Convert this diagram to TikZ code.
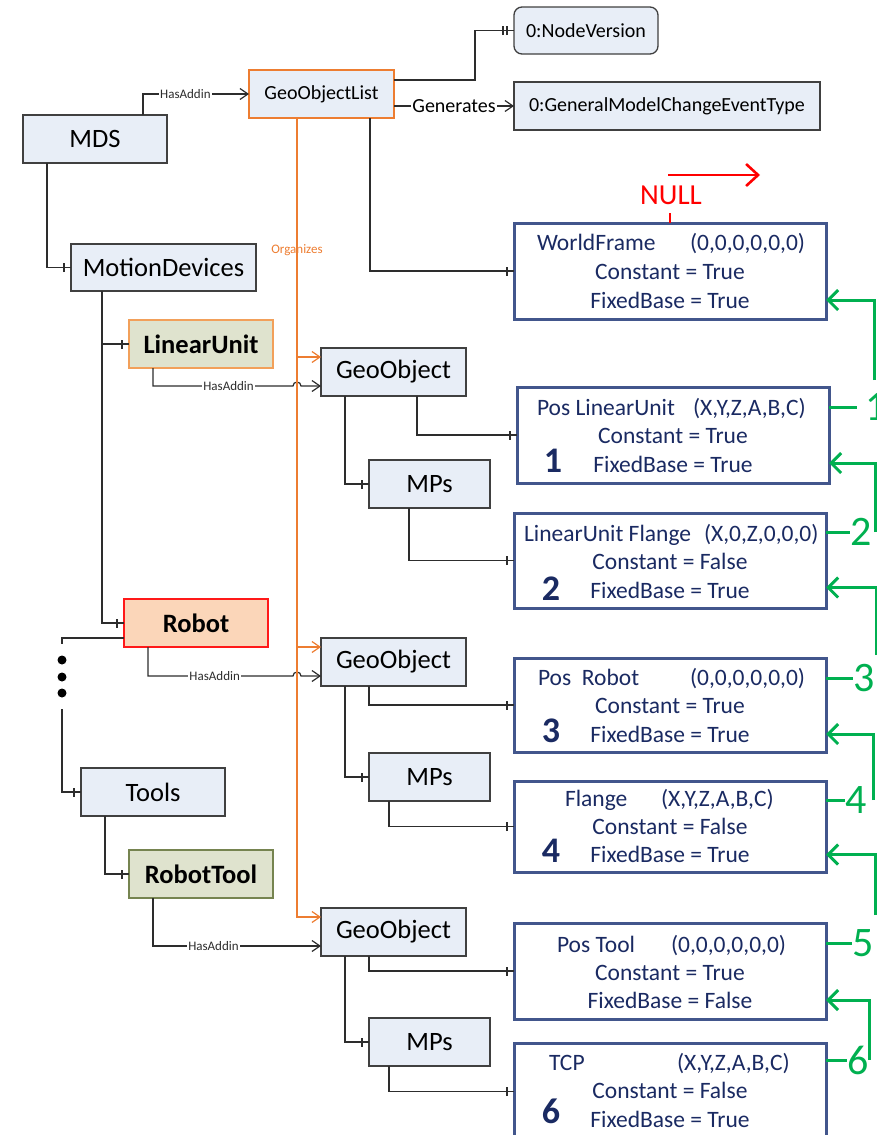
\documentclass[tikz,border=0pt]{standalone}
\usepackage{fontspec}
\setmainfont{Carlito}
\usetikzlibrary{arrows.meta,decorations.markings,calc}
\newcommand\setfs[1]{\fontsize{#1}{#1}\selectfont}
\definecolor{boxfill}{RGB}{232,238,247}
\definecolor{boxline}{RGB}{64,64,64}
\definecolor{olivefill}{RGB}{223,227,206}
\definecolor{oliveline}{RGB}{118,132,80}
\definecolor{peach}{RGB}{251,214,185}
\definecolor{orng}{RGB}{237,125,49}
\definecolor{lorng}{RGB}{242,160,90}
\definecolor{frame}{RGB}{66,86,140}
\definecolor{navy}{RGB}{26,42,98}
\definecolor{grn}{RGB}{0,176,80}
\definecolor{conncol}{RGB}{45,45,45}

\begin{document}
\begin{tikzpicture}[x=1pt,y=-1pt,
  every node/.style={inner sep=0pt,outer sep=0pt},
  sz/.style 2 args={minimum width=#1pt,minimum height=#2pt},
  lbox/.style={draw=boxline,fill=boxfill,line width=1.3pt,anchor=north west,font=\setfs{26.5}},
  sbox/.style={lbox,font=\setfs{20}},
  olbox/.style={lbox,fill=olivefill,font=\setfs{26.5}\bfseries},
  rbox/.style={draw=frame,fill=white,line width=3pt,anchor=north west,minimum width=312pt},
  rtxt/.style={text=navy,font=\setfs{23.5},anchor=base west},
  rctr/.style={text=navy,font=\setfs{23.5},anchor=base},
  rnum/.style={text=navy,font=\setfs{36}\bfseries,anchor=base},
  conn/.style={draw=conncol,line width=1.2pt},
  oarr/.style={-{Straight Barb[length=8pt,width=11pt]}},
  org/.style={draw=orng,line width=1.2pt,-{Straight Barb[length=8pt,width=11pt]}},
  lbl/.style={fill=white,font=\setfs{13},text=conncol,inner sep=1pt},
  one/.style={postaction={decorate,decoration={markings,
      mark=at position -7pt with {\draw[conncol,line width=1.1pt] (0pt,-4.5pt) -- (0pt,4.5pt);}}}},
  two/.style={postaction={decorate,decoration={markings,
      mark=at position -7pt with {\draw[conncol,line width=1.1pt] (0pt,-4.5pt) -- (0pt,4.5pt);},
      mark=at position -11pt with {\draw[conncol,line width=1.1pt] (0pt,-4.5pt) -- (0pt,4.5pt);}}}},
  garr/.style={draw=grn,line width=3pt,-{Straight Barb[length=10pt,width=20pt]}},
  gdash/.style={draw=grn,line width=3pt},
  gnum/.style={text=grn,font=\setfs{42},anchor=west},
  dot/.style={circle,fill=black,minimum size=9pt}
]
\useasboundingbox (0,0) rectangle (877,1135);
\clip (0,0) rectangle (877,1135);

% ---------- left hierarchy ----------
\node[lbox,sz={144}{48}] (mds) at (23,115) {MDS};
\node[lbox,sz={185}{47}] (mdev) at (71,244) {MotionDevices};
\node[olbox,draw=lorng,sz={144}{48}] (lin) at (129,320) {LinearUnit};
\node[olbox,fill=peach,draw=red!90!white,sz={144}{48}] (robot) at (124,599) {Robot};
\node[lbox,sz={144}{48}] (tools) at (81,768) {Tools};
\node[olbox,draw=oliveline,sz={144}{48}] (rtool) at (129,850) {RobotTool};

% ---------- object list and its targets ----------
\node[sbox,draw=orng,sz={145}{48}] (gol) at (249,70) {GeoObjectList};
\node[sbox,rounded corners=8pt,sz={144}{47}] (nodever) at (514,7) {0:NodeVersion};
\node[sbox,sz={306}{48}] (gmce) at (514,82) {0:GeneralModelChangeEventType};

% ---------- geo objects and MPs ----------
\node[lbox,sz={145}{48}] (geo1) at (321,348) {GeoObject};
\node[lbox,sz={121}{48}] (mps1) at (369,460) {MPs};
\node[lbox,sz={145}{48}] (geo2) at (321,638) {GeoObject};
\node[lbox,sz={121}{48}] (mps2) at (369,753) {MPs};
\node[lbox,sz={145}{48}] (geo3) at (321,908) {GeoObject};
\node[lbox,sz={121}{48}] (mps3) at (369,1018) {MPs};

% ---------- frame boxes ----------
\node[rbox,minimum height=96pt] (wf) at (514,223) {};
\node[rtxt] (wf-a) at ([xshift=23pt,yshift=-27pt]wf.north west) {WorldFrame};
\node[rtxt] (wf-b) at ([xshift=176pt,yshift=-27pt]wf.north west) {(0,0,0,0,0,0)};
\node[rctr] (wf-c) at ([yshift=-56pt]wf.north) {Constant = True};
\node[rctr] (wf-d) at ([yshift=-85pt]wf.north) {FixedBase = True};

\node[rbox,minimum height=96pt] (plu) at (517,387) {};
\node[rtxt] (plu-a) at ([xshift=20pt,yshift=-28pt]plu.north west) {Pos LinearUnit};
\node[rtxt] (plu-b) at ([xshift=176pt,yshift=-28pt]plu.north west) {(X,Y,Z,A,B,C)};
\node[rctr] (plu-c) at ([yshift=-56pt]plu.north) {Constant = True};
\node[rctr] (plu-d) at ([yshift=-85pt]plu.north) {FixedBase = True};
\node[rnum] (plu-n) at ([xshift=36pt,yshift=-85pt]plu.north west) {1};

\node[rbox,minimum height=95pt] (luf) at (514,513) {};
\node[rtxt] (luf-a) at ([xshift=10pt,yshift=-28pt]luf.north west) {LinearUnit Flange};
\node[rtxt] (luf-b) at ([xshift=190pt,yshift=-28pt]luf.north west) {(X,0,Z,0,0,0)};
\node[rctr] (luf-c) at ([yshift=-56pt]luf.north) {Constant = False};
\node[rctr] (luf-d) at ([yshift=-85pt]luf.north) {FixedBase = True};
\node[rnum] (luf-n) at ([xshift=37pt,yshift=-87pt]luf.north west) {2};

\node[rbox,minimum height=94pt] (pr) at (514,658) {};
\node[rtxt] (pr-a) at ([xshift=24pt,yshift=-27pt]pr.north west) {Pos\ \ Robot};
\node[rtxt] (pr-b) at ([xshift=176pt,yshift=-27pt]pr.north west) {(0,0,0,0,0,0)};
\node[rctr] (pr-c) at ([yshift=-55pt]pr.north) {Constant = True};
\node[rctr] (pr-d) at ([yshift=-84pt]pr.north) {FixedBase = True};
\node[rnum] (pr-n) at ([xshift=37pt,yshift=-84pt]pr.north west) {3};

\node[rbox,minimum height=91pt] (fl) at (514,781) {};
\node[rtxt] (fl-a) at ([xshift=51pt,yshift=-25pt]fl.north west) {Flange};
\node[rtxt] (fl-b) at ([xshift=147pt,yshift=-25pt]fl.north west) {(X,Y,Z,A,B,C)};
\node[rctr] (fl-c) at ([yshift=-53pt]fl.north) {Constant = False};
\node[rctr] (fl-d) at ([yshift=-81pt]fl.north) {FixedBase = True};
\node[rnum] (fl-n) at ([xshift=37pt,yshift=-81pt]fl.north west) {4};

\node[rbox,minimum height=96pt] (pt) at (514,923) {};
\node[rtxt] (pt-a) at ([xshift=43pt,yshift=-29pt]pt.north west) {Pos Tool};
\node[rtxt] (pt-b) at ([xshift=157pt,yshift=-29pt]pt.north west) {(0,0,0,0,0,0)};
\node[rctr] (pt-c) at ([yshift=-57pt]pt.north) {Constant = True};
\node[rctr] (pt-d) at ([yshift=-85pt]pt.north) {FixedBase = False};

\node[rbox,minimum height=97pt] (tcp) at (514,1043) {};
\node[rtxt] (tcp-a) at ([xshift=35pt,yshift=-27pt]tcp.north west) {TCP};
\node[rtxt] (tcp-b) at ([xshift=163pt,yshift=-27pt]tcp.north west) {(X,Y,Z,A,B,C)};
\node[rctr] (tcp-c) at ([yshift=-55pt]tcp.north) {Constant = False};
\node[rctr] (tcp-d) at ([yshift=-84pt]tcp.north) {FixedBase = True};
\node[rnum] (tcp-n) at ([xshift=37pt,yshift=-80pt]tcp.north west) {6};

% ---------- helper points ----------
\coordinate (orgtop) at ([xshift=48pt]gol.south west);
\coordinate (o1) at ([yshift=-9pt]geo1.north west);
\coordinate (o2) at ([yshift=-9pt]geo2.north west);
\coordinate (o3) at ([yshift=15pt]geo3.west);
\coordinate (h1) at ([yshift=-14pt]geo1.west);
\coordinate (h2) at ([yshift=-14pt]geo2.west);
\coordinate (h3) at ([yshift=-14pt]geo3.west);
\coordinate (j1) at ($(orgtop |- h1)+(-4,0)$);
\coordinate (j2) at ($(orgtop |- h2)+(-4,0)$);

% ---------- black connectors ----------
\draw[conn,oarr] ([xshift=120pt]mds.north west) |- node[lbl,pos=0.70]{HasAddin} (gol.west);
\draw[conn,two] ([yshift=-10pt]gol.north east) -- ++(81,0) |- (nodever.west);
\draw[conn,oarr] (gol.east |- gmce.west) -- node[lbl,font=\setfs{20},text=black]{Generates} (gmce.west);
\draw[conn,one] ([xshift=121pt]gol.south west) |- (wf.west);

\draw[conn,one] ([xshift=24pt]mds.south west) |- (mdev.west);
\draw[conn,one] ([xshift=31pt]mdev.south west) |- (lin.west);
\draw[conn,one] ([xshift=31pt]mdev.south west) |- (robot.west);

\draw[conn,oarr] ([xshift=24pt]lin.south west) |- node[lbl,pos=0.77]{HasAddin} (j1)
  arc[start angle=180,end angle=0,radius=4pt] -- (h1);
\draw[conn,oarr] ([xshift=24pt]robot.south west) |- node[lbl,pos=0.73]{HasAddin} (j2)
  arc[start angle=180,end angle=0,radius=4pt] -- (h2);
\draw[conn,oarr] ([xshift=24pt]rtool.south west) |- node[lbl,pos=0.68]{HasAddin} (h3);

% elided devices between Robot and Tools
\coordinate (dtop) at (62,644);
\coordinate (dbot) at (62,709);
\node[dot] (d1) at (62,660) {};
\node[dot] (d2) at (62,677) {};
\node[dot] (d3) at (62,693) {};
\draw[conn] ([yshift=9pt]robot.south west) -| (dtop);
\draw[conn,one] (dbot) |- (tools.west);
\draw[conn,one] ([xshift=24pt]tools.south west) |- (rtool.west);

\draw[conn,one] ([xshift=24pt]geo1.south west) |- (mps1.west);
\draw[conn,one] ([xshift=96pt]geo1.south west) |- (plu.west);
\draw[conn,one] ([xshift=40pt]mps1.south west) |- (luf.west);
\draw[conn,one] ([xshift=24pt]geo2.south west) |- (mps2.west);
\draw[conn,one] ([xshift=48pt]geo2.south west) |- (pr.west);
\draw[conn,one] ([xshift=20pt]mps2.south west) |- (fl.west);
\draw[conn,one] ([xshift=24pt]geo3.south west) |- (mps3.west);
\draw[conn,one] ([xshift=48pt]geo3.south west) |- (pt.west);
\draw[conn,one] ([xshift=20pt]mps3.south west) |- (tcp.west);

% ---------- organizes (orange) ----------
\draw[org] (orgtop) |- (o3);
\draw[org] (orgtop |- o1) -- (o1);
\draw[org] (orgtop |- o2) -- (o2);
\node[text=orng,font=\setfs{13}] (orgl) at (297,250) {Organizes};

% ---------- NULL marker ----------
\node[text=red,font=\setfs{29}] (null) at (671,195) {NULL};
\draw[red,line width=2.5pt] (wf.north) -- ++(0,-10);
\coordinate (ra) at (668,175);
\coordinate (rb) at (760,175);
\draw[red,line width=2.6pt,-{Straight Barb[length=12pt,width=22pt]}] (ra) -- (rb);

% ---------- numbered chain (green) ----------
\node[gnum] (g1) at (865,407) {1};
\node[gnum] (g2) at (850,532) {2};
\node[gnum] (g3) at (853,678) {3};
\node[gnum] (g4) at (845,800) {4};
\node[gnum] (g5) at (852,943) {5};
\node[gnum] (g6) at (847,1060) {6};
\draw[gdash] (plu.east |- g1.west) -- ([xshift=-8pt]g1.west);
\draw[gdash] (luf.east |- g2.west) -- (g2.west);
\draw[gdash] (pr.east |- g3.west) -- (g3.west);
\draw[gdash] (fl.east |- g4.west) -- (g4.west);
\draw[gdash] (pt.east |- g5.west) -- (g5.west);
\draw[gdash] (tcp.east |- g6.west) -- (g6.west);

\coordinate (v1) at (874,380);
\coordinate (v2) at (875,532);
\coordinate (v3) at (876,655);
\coordinate (v4) at (873,800);
\coordinate (v5) at (875,915);
\coordinate (v6) at (869,1060);
\draw[garr] (v1) |- ([yshift=-29pt]wf.east);
\draw[garr] (v2) |- ([yshift=-28pt]plu.east);
\draw[garr] (v3) |- ([yshift=-27pt]luf.east);
\draw[garr] (v4) |- ([yshift=-29pt]pr.east);
\draw[garr] (v5) |- ([yshift=-28pt]fl.east);
\draw[garr] (v6) |- ([yshift=-29pt]pt.east);
\end{tikzpicture}
\end{document}
